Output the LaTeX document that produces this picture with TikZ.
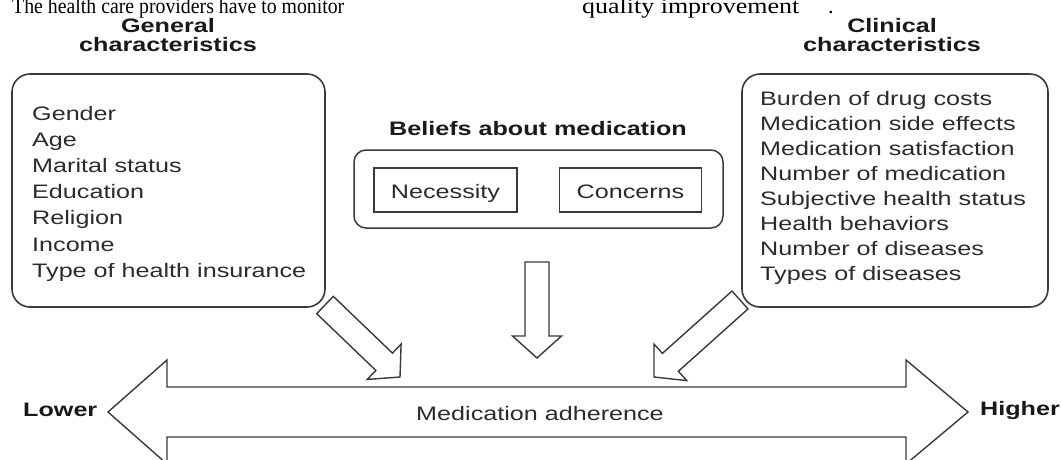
\documentclass[tikz,border=0pt]{standalone}
\usepackage{fontspec}
\setmainfont{Liberation Serif}
\newfontfamily\fsans[FakeStretch=1.29]{Liberation Sans}
\newfontfamily\wideserif[FakeStretch=1.18]{Liberation Serif}
\newfontfamily\narrowserif[FakeStretch=0.9]{Liberation Serif}
\usetikzlibrary{calc}
\definecolor{ink}{HTML}{2B2B2B}
\definecolor{edge}{HTML}{3A3A3A}
\tikzset{
  txt/.style={font=\fsans\fontsize{19.5}{26}\selectfont, inner sep=0pt, text=ink},
  headtxt/.style={font=\fsans\bfseries\fontsize{19.5}{20}\selectfont, inner sep=0pt, text=black!90},
  bodytxt/.style={inner sep=0pt, text=black},
  roundbox/.style={draw=edge, line width=1.6pt, rounded corners=18pt},
  midbox/.style={draw=edge, line width=1.5pt, rounded corners=12pt},
  smallbox/.style={draw=edge, line width=1.4pt},
  fat/.style={draw=edge, line width=1.4pt, line join=miter, fill=white},
}
\newcommand\fatarrow[2]{%
  \coordinate (hb) at ($(#2)!22pt!(#1)$);
  \draw[fat] ($(#1)!12pt!90:(#2)$) -- ($(hb)!12pt!90:(#2)$) -- ($(hb)!24.5pt!90:(#2)$) -- (#2)
     -- ($(hb)!24.5pt!-90:(#2)$) -- ($(hb)!12pt!-90:(#2)$) -- ($(#1)!12pt!-90:(#2)$) -- cycle;}
\begin{document}
\begin{tikzpicture}[x=1pt,y=-1pt]
\useasboundingbox (0,0) rectangle (1061,459);
\clip (0,0) rectangle (1061,459);
\fill[white] (0,0) rectangle (1061,459);

% body text fragments of the page (cut at the top edge, as in the reference)
\node[bodytxt, anchor=base west, font=\narrowserif\fontsize{22}{24}\selectfont] (p1) at (12,13.5) {The health care providers have to monitor};
\node[bodytxt, anchor=base west, font=\wideserif\fontsize{22}{24}\selectfont] (p2) at (582,13.5) {quality improvement};
\node[bodytxt, anchor=base west, font=\fontsize{22}{24}\selectfont] (p3) at (828,13.5) {.};

% headings
\node[headtxt, anchor=base] (gh1) at (168,32) {General};
\node[headtxt, anchor=base] (gh2) at (168,51) {characteristics};
\node[headtxt, anchor=base] (ch1) at (892,32) {Clinical};
\node[headtxt, anchor=base] (ch2) at (892,51) {characteristics};
\node[headtxt, anchor=base] (bh) at (538,135) {Beliefs about medication};

% boxes
\node[roundbox, minimum width=313pt, minimum height=233pt, inner sep=0pt] (gbox) at (168.5,190.5) {};
\node[roundbox, minimum width=306pt, minimum height=233pt, inner sep=0pt] (cbox) at (895,190.5) {};
\node[midbox, minimum width=369pt, minimum height=78pt, inner sep=0pt] (bbox) at (538.5,189) {};
\node[smallbox, minimum width=143pt, minimum height=44pt, inner sep=0pt] (nbox) at (445.5,190) {};
\node[smallbox, minimum width=142pt, minimum height=44pt, inner sep=0pt] (kbox) at (630.5,190) {};
\node[txt, anchor=base] (nt) at (445.5,198) {Necessity};
\node[txt, anchor=base] (kt) at (630.5,198) {Concerns};

% lists
\foreach \t [count=\i] in {Gender,Age,Marital status,Education,Religion,Income,Type of health insurance}
  \node[txt, anchor=base west] (g\i) at (32,{120+26.2*(\i-1)}) {\t};
\foreach \t [count=\i] in {Burden of drug costs,Medication side effects,Medication satisfaction,Number of medication,Subjective health status,Health behaviors,Number of diseases,Types of diseases}
  \node[txt, anchor=base west] (c\i) at (760,{105+25*(\i-1)}) {\t};

% block arrows
\coordinate (ta) at (325,305); \coordinate (pa) at (400,377);
\coordinate (tm) at (537,262); \coordinate (pm) at (537,358);
\coordinate (tc) at (740,300); \coordinate (pc) at (654,377);
\fatarrow{ta}{pa}
\fatarrow{tm}{pm}
\fatarrow{tc}{pc}

% double arrow
\coordinate (lo) at (108,412);
\coordinate (hi) at (968,412);
\draw[fat] (lo) -- ($(lo)+(59,-52)$) -- ($(lo)+(59,-25)$) -- ($(hi)+(-62,-25)$) -- ($(hi)+(-62,-52)$) -- (hi)
  -- ($(hi)+(-62,52)$) -- ($(hi)+(-62,25)$) -- ($(lo)+(59,25)$) -- ($(lo)+(59,52)$) -- cycle;
\node[txt, anchor=base] (adh) at (540,420) {Medication adherence};
\node[headtxt, anchor=base west] (low) at (23,416) {Lower};
\node[headtxt, anchor=base west] (high) at (980,415) {Higher};
\end{tikzpicture}
\end{document}
